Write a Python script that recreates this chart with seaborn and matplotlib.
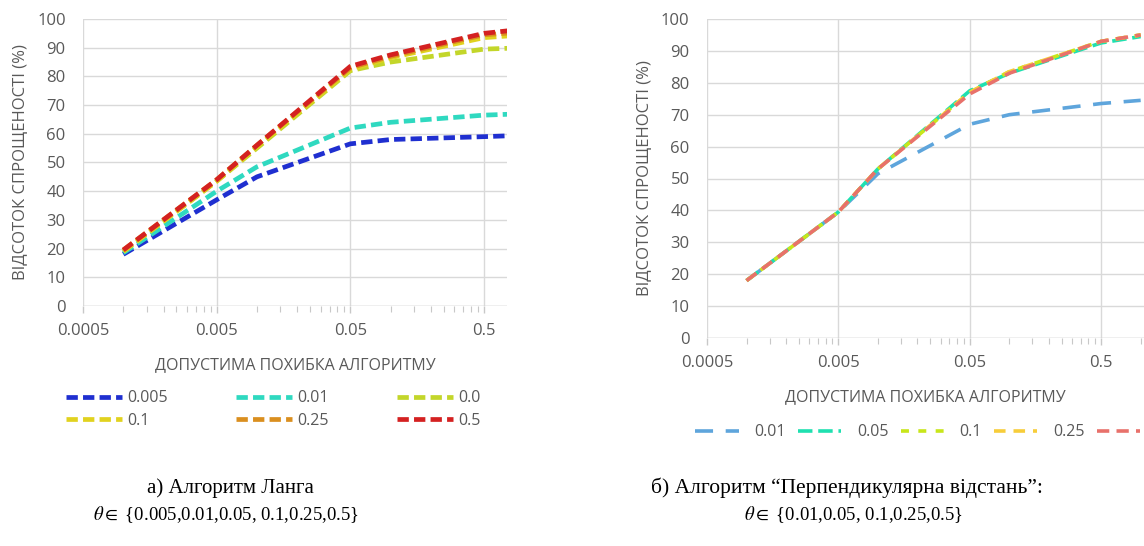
import numpy as np
import pandas as pd
import matplotlib
matplotlib.use("Agg")
import matplotlib.pyplot as plt
from matplotlib.patches import Rectangle
from matplotlib.ticker import FixedLocator, NullFormatter
import seaborn as sns

# --- ДАНІ ---
x_vals = [0.001, 0.005, 0.01, 0.05, 0.1, 0.5, 1.0]
x_major = [0.0005, 0.005, 0.05, 0.5]
x_major_labels = ["0.0005", "0.005", "0.05", "0.5"]

# а) Алгоритм Ланга
lang_theta = ["0.005", "0.01", "0.05", "0.1", "0.25", "0.5"]
lang_005 = [18.0, 37.0, 45.0, 56.5, 58.0, 59.0, 59.5]
lang_01 = [18.5, 40.0, 48.5, 62.0, 64.0, 66.5, 67.0]
lang_05 = [19.0, 43.5, 55.0, 82.0, 85.0, 89.5, 90.0]
lang_1 = [19.0, 43.5, 55.5, 82.5, 86.5, 93.5, 94.5]
lang_25 = [19.5, 44.0, 56.0, 83.0, 87.0, 94.5, 95.5]
lang_5 = [19.5, 44.0, 56.0, 83.5, 87.5, 95.0, 96.5]
lang_colors = ["#1f2fd0", "#2fd9c0", "#c3d62a", "#e1d21f", "#da8f1f", "#d42121"]

# б) Алгоритм "Перпендикулярна відстань"
perp_theta = ["0.01", "0.05", "0.1", "0.25", "0.5"]
perp_01 = [18.0, 39.5, 51.5, 67.0, 70.0, 73.5, 74.5]
perp_05 = [18.0, 39.5, 53.0, 77.5, 83.0, 92.5, 94.5]
perp_1 = [18.0, 39.5, 53.0, 77.0, 83.5, 93.0, 95.0]
perp_25 = [18.0, 39.5, 53.0, 77.0, 83.5, 93.0, 95.0]
perp_5 = [18.0, 39.5, 53.0, 76.5, 83.0, 93.0, 95.0]
perp_colors = ["#5ea5dc", "#1fe0b0", "#c8e61a", "#f7cd3a", "#e8716b"]

TEXT = "#595959"
GRID = "#d9d9d9"

sns.set_theme(style="white")
plt.rcParams["font.family"] = ["Open Sans", "DejaVu Sans"]
plt.rcParams["mathtext.fontset"] = "stix"
plt.rcParams["text.color"] = TEXT
plt.rcParams["axes.labelcolor"] = TEXT
plt.rcParams["xtick.color"] = TEXT
plt.rcParams["ytick.color"] = TEXT


def long_df(series, names):
    rows = []
    for name, vals in zip(names, series):
        for xv, yv in zip(x_vals, vals):
            rows.append({"x": xv, "y": yv, "theta": name})
    return pd.DataFrame(rows)


def style_axis(ax, xmax):
    ax.set_xscale("log")
    ax.set_xlim(x_major[0], xmax)
    ax.set_ylim(0, 100)
    ax.xaxis.set_major_locator(FixedLocator(x_major))
    minors = [m * k for m in x_major for k in range(2, 10)]
    ax.xaxis.set_minor_locator(FixedLocator(minors))
    ax.xaxis.set_minor_formatter(NullFormatter())
    ax.set_xticklabels(x_major_labels)
    ax.set_yticks(range(0, 101, 10))
    ax.grid(True, which="major", color=GRID, linewidth=1)
    for s in ax.spines.values():
        s.set_visible(False)
    ax.tick_params(axis="x", which="both", bottom=True, direction="out",
                   color="#c8c8c8", labelsize=12, pad=7)
    ax.tick_params(axis="x", which="major", length=5, width=1)
    ax.tick_params(axis="x", which="minor", length=4, width=0.8)
    ax.tick_params(axis="y", left=False, length=0, labelsize=12, pad=12.5)
    ax.set_xlabel("ДОПУСТИМА ПОХИБКА АЛГОРИТМУ", fontsize=11.5, labelpad=13)
    ax.set_ylabel("ВІДСОТОК СПРОЩЕНОСТІ (%)", fontsize=12, labelpad=6)
    ax.axhline(0, color="#d0d0d0", linewidth=1, zorder=1)


fig = plt.figure(figsize=(11.44, 5.46), dpi=100)

# --- а) Ланга ---
ax1 = fig.add_axes([0.0726, 0.4396, 0.3706, 0.5256])
df1 = long_df([lang_005, lang_01, lang_05, lang_1, lang_25, lang_5], lang_theta)
sns.lineplot(data=df1, x="x", y="y", hue="theta", hue_order=lang_theta,
             palette=lang_colors, ax=ax1, linewidth=3.4, legend=False)
for ln in ax1.get_lines():
    ln.set_dashes((2.4, 1.1))
    ln.set_dash_capstyle("butt")
style_axis(ax1, 0.743)
h1 = ax1.get_lines()[:6]
order = [0, 3, 1, 4, 2, 5]  # по рядках, як в Excel
ax1.legend([h1[i] for i in order], [lang_theta[i] for i in order], loc="upper left",
           bbox_to_anchor=(60 / 1144, 1 - 384 / 546), bbox_transform=fig.transFigure,
           ncol=3, frameon=False, fontsize=11.5, handlelength=3.5, handletextpad=0.3,
           columnspacing=4.3, labelspacing=0.4, borderaxespad=0)

# --- б) Перпендикулярна відстань ---
ax2 = fig.add_axes([707 / 1144, 1 - 338 / 546, 437 / 1144, 319 / 546])
df2 = long_df([perp_01, perp_05, perp_1, perp_25, perp_5], perp_theta)
sns.lineplot(data=df2, x="x", y="y", hue="theta", hue_order=perp_theta,
             palette=perp_colors, ax=ax2, linewidth=2.6, legend=False)
perp_dashes = [(5.0, 3.5), (4.0, 1.6), (2.2, 2.6), (3.2, 2.2), (3.4, 2.0)]
for ln, d in zip(ax2.get_lines(), perp_dashes):
    ln.set_dashes(d)
    ln.set_dash_capstyle("butt")
style_axis(ax2, 1.06)
ax2.legend(ax2.get_lines()[:5], perp_theta, loc="upper left",
           bbox_to_anchor=(689 / 1144, 1 - 418 / 546), bbox_transform=fig.transFigure,
           ncol=5, frameon=False, fontsize=11.5, handlelength=2.7, handletextpad=1.0,
           columnspacing=0.75, borderaxespad=0)

# обрізка лівої легенди як на оригіналі
fig.add_artist(Rectangle((481 / 1144, 1 - 430 / 546), 150 / 1144, 52 / 546,
                         transform=fig.transFigure, facecolor="white",
                         edgecolor="none", zorder=10))

# --- підписи ---
serif = ["Liberation Serif", "DejaVu Serif"]
fig.text(230 / 1144, 1 - 488 / 546, "а) Алгоритм Ланга", ha="center", va="center",
         fontsize=15, family=serif, color="black")
fig.text(226 / 1144, 1 - 515 / 546, r"$\theta \in$ {0.005,0.01,0.05, 0.1,0.25,0.5}",
         ha="center", va="center", fontsize=13.5, family=serif, color="black")
fig.text(847 / 1144, 1 - 488 / 546, "б) Алгоритм “Перпендикулярна відстань”:",
         ha="center", va="center", fontsize=15.5, family=serif, color="black")
fig.text(853 / 1144, 1 - 515 / 546, r"$\theta \in$ {0.01,0.05, 0.1,0.25,0.5}",
         ha="center", va="center", fontsize=13.5, family=serif, color="black")

fig.savefig("out.png", dpi=100)
